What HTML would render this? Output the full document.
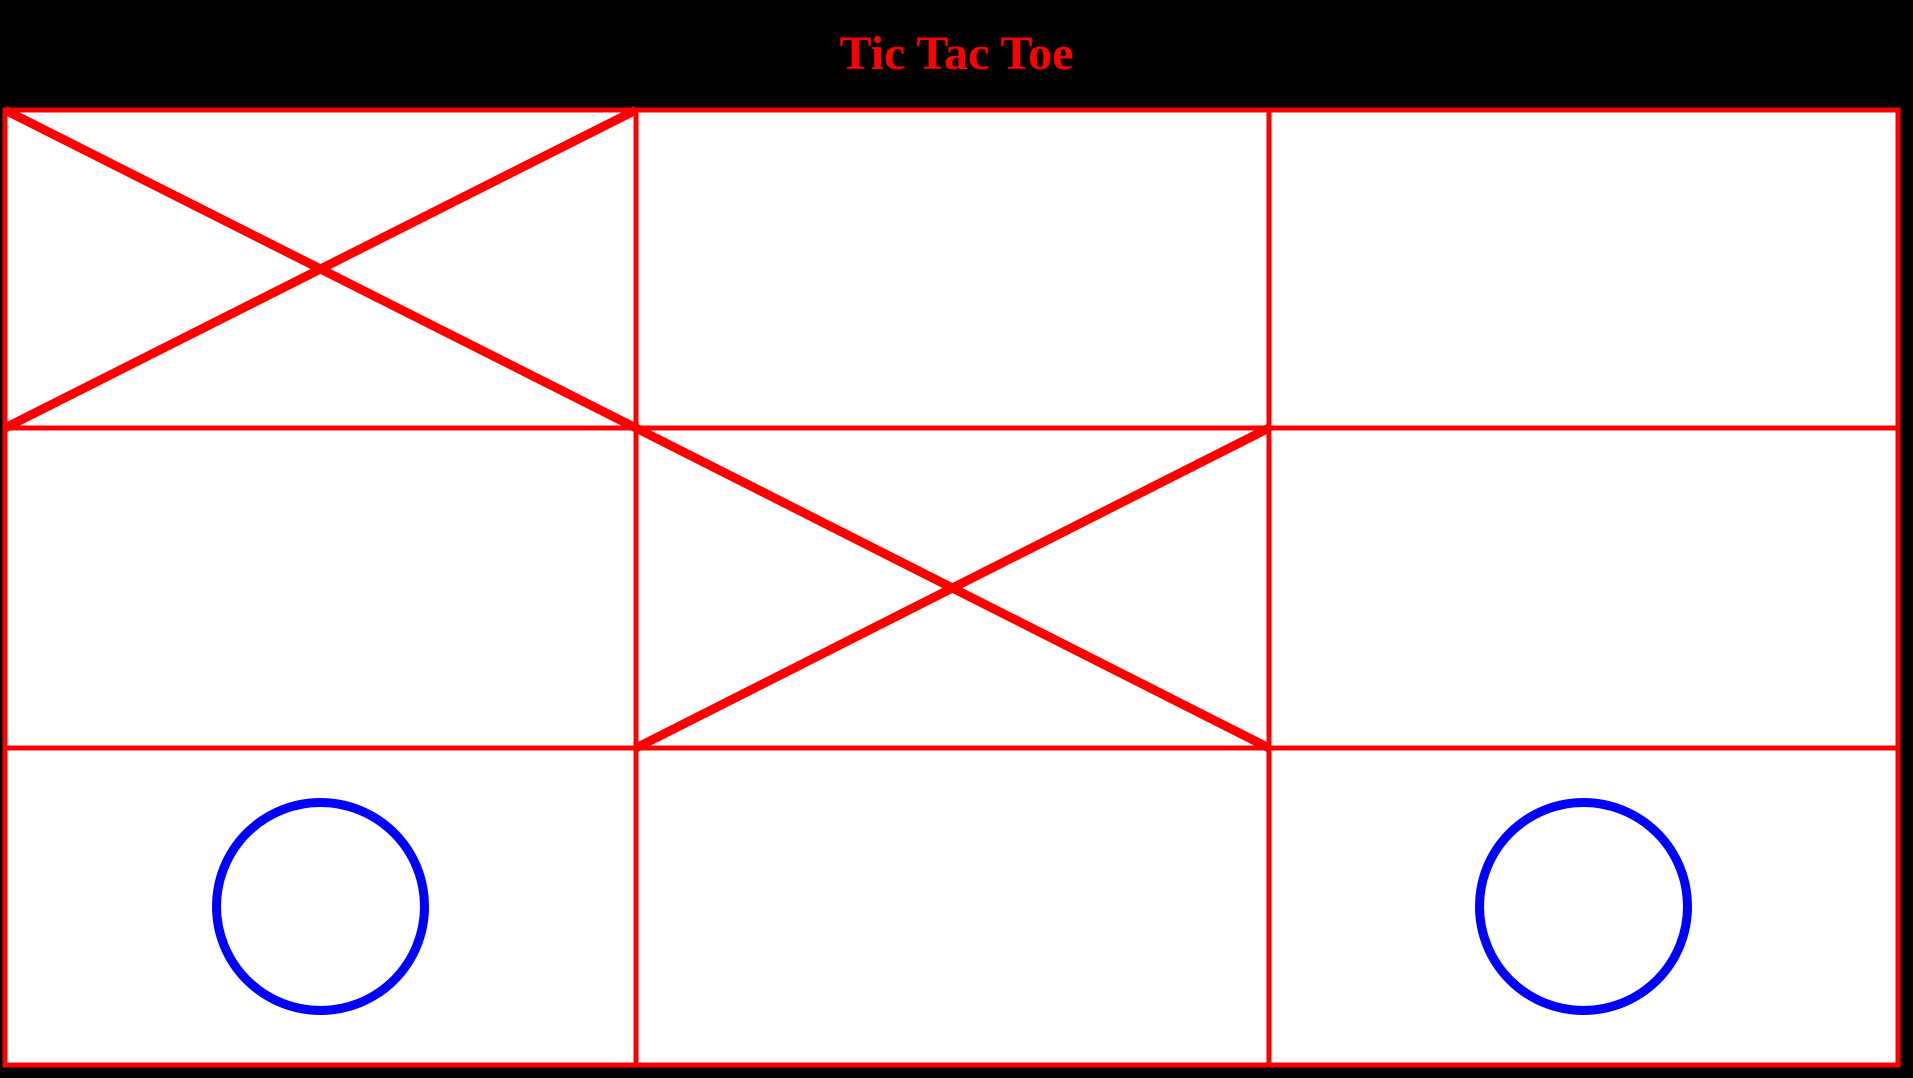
<!DOCTYPE html>
<html><head><meta charset="utf-8"><style>
html,body{margin:0;padding:0;background:#000;width:1913px;height:1078px;overflow:hidden}
#title{position:absolute;left:0;top:0;width:1913px;height:108px;text-align:center;color:#f00;font:bold 48px "Liberation Serif",serif;line-height:108px}
svg{position:absolute;left:0;top:0}
</style></head><body>
<div id="title">Tic Tac Toe</div>
<svg id="board" width="1913" height="1078"></svg>
<script>
const boardMarks = ["X","","","","X","","O","","O"];
const colEdges = [5,636,1269,1898];
const rowEdges = [110,428,748,1065];
const NS="http://www.w3.org/2000/svg";
const svg=document.getElementById('board');
function mk(tag,attrs){const e=document.createElementNS(NS,tag);for(const k in attrs)e.setAttribute(k,attrs[k]);svg.appendChild(e);return e;}
for(let i=0;i<9;i++){
  const r=Math.floor(i/3),c=i%3;
  const x0=colEdges[c],x1=colEdges[c+1],y0=rowEdges[r],y1=rowEdges[r+1];
  const cell=mk('rect',{x:x0,y:y0,width:x1-x0,height:y1-y0,fill:'#fff',stroke:'#f00','stroke-width':5});
  
  
}
for(let i=0;i<9;i++){
  const r=Math.floor(i/3),c=i%3;
  const x0=colEdges[c],x1=colEdges[c+1],y0=rowEdges[r],y1=rowEdges[r+1];
  if(boardMarks[i]==="X"){
    const a=mk('line',{x1:x0,y1:y0,x2:x1,y2:y1,stroke:'#f00','stroke-width':9});
    
    
    const b=mk('line',{x1:x0,y1:y1,x2:x1,y2:y0,stroke:'#f00','stroke-width':9});
    
    
  } else if(boardMarks[i]==="O"){
    const o=mk('circle',{cx:(x0+x1)/2,cy:(y0+y1)/2,r:104,fill:'none',stroke:'#00f','stroke-width':9});
    
    
  }
}
</script>
</body></html>
